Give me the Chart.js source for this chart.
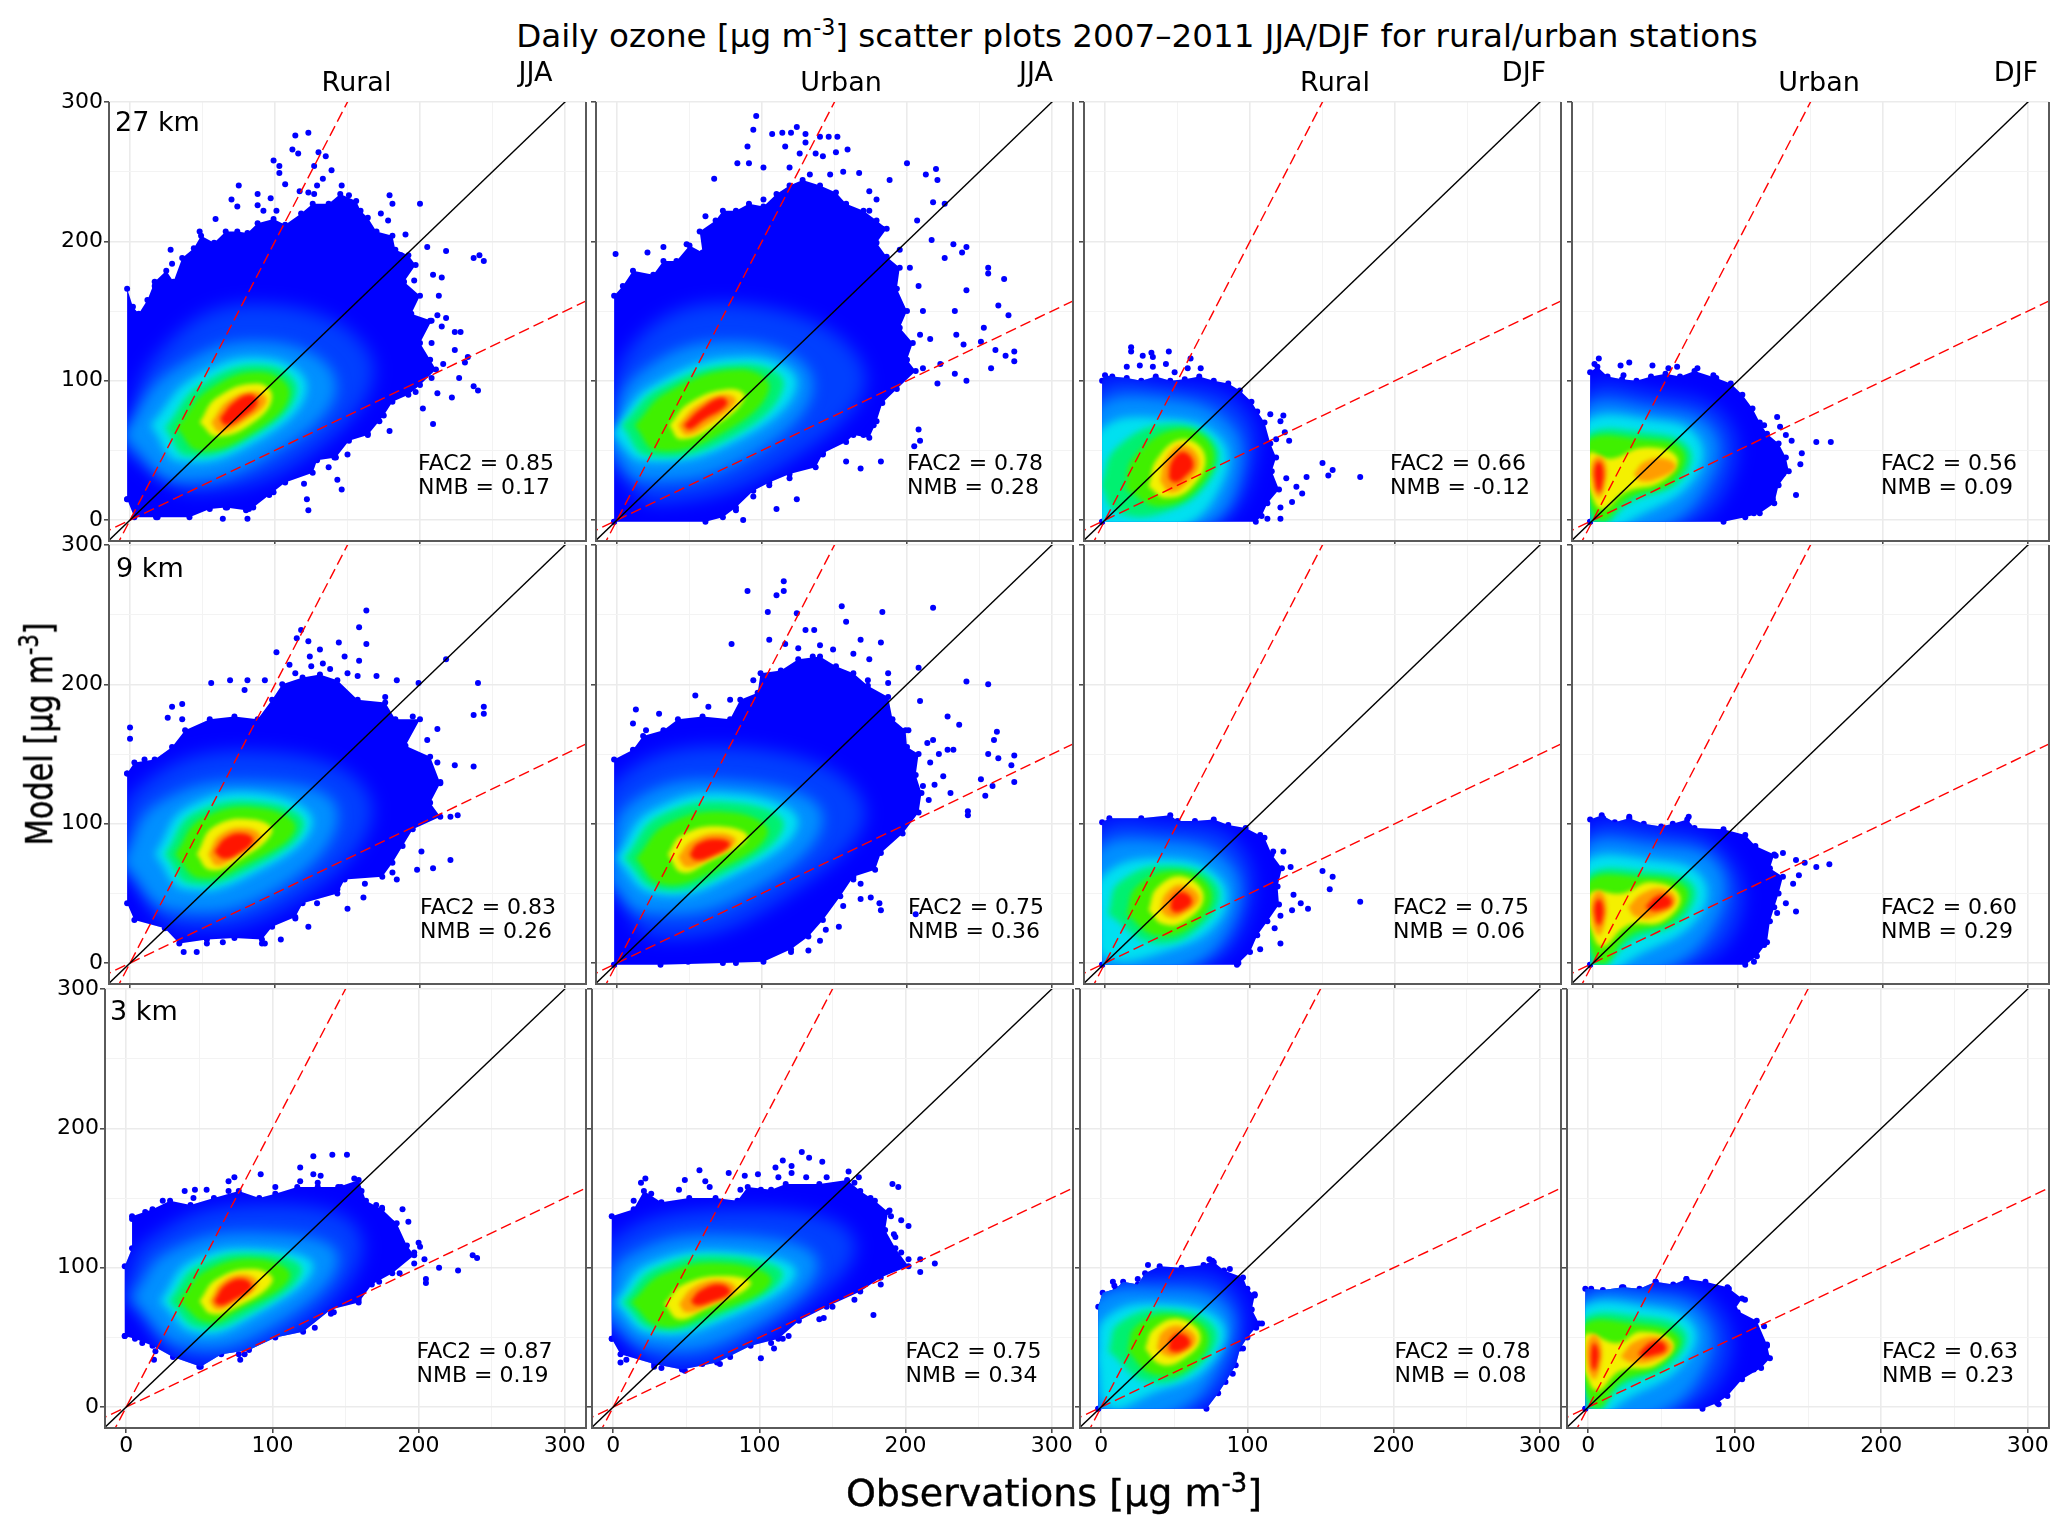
<!DOCTYPE html>
<html><head><meta charset="utf-8">
<style>
html,body{margin:0;padding:0;background:#fff;width:2067px;height:1537px;overflow:hidden;font-family:"DejaVu Sans",sans-serif;color:#000}
canvas{position:absolute}
.t{position:absolute;white-space:nowrap;line-height:1;z-index:5}
.c{transform:translate(-50%,-50%)}
sup{font-size:.68em;line-height:0;vertical-align:.55em}
</style>
<script src="https://cdn.jsdelivr.net/npm/chart.js@4/dist/chart.umd.min.js"></script>
</head><body>
<script>
// ---- labels and ticks ----
const rowNames=['27 km','9 km','3 km'];
const colSites=['Rural','Urban','Rural','Urban'];
const colSeasons=['JJA','JJA','DJF','DJF'];
const gridTicks=[0,50,100,150,200,250,300];
const fac2=[[0.85,0.78,0.66,0.56],[0.83,0.75,0.75,0.60],[0.87,0.75,0.78,0.63]];
const nmb=[[0.17,0.28,-0.12,0.09],[0.26,0.36,0.06,0.29],[0.19,0.34,0.08,0.23]];
// ---- reference lines ----
const oneToOne=[-20,-20,320,320];
const twoToOne=[-20,-40,160,320];
const oneToTwo=[-40,-20,320,160];
// ---- density classes, low to high ----
const densityColors=['','#0040ff','#0090ff','#00e0f0','#00f070','#40f000','#f4f000','#ff9c00','#ff1500'];
const densityBlur=[0,9,7,4,3,2.5,2,2,2];

// ---- 27 km ----
const outline27RJ=[-2,15,-2,166,2,153,6,148,12,158,17,171,25,179,30,171,36,188,44,195,49,204,58,199,66,207,74,207,81,206,88,213,99,216,107,212,118,220,126,227,137,227,145,234,156,229,159,222,164,217,170,207,181,204,183,194,192,190,197,183,189,171,200,161,194,148,208,143,200,127,207,115,211,108,200,97,192,90,181,85,175,75,164,61,151,57,142,45,129,43,126,34,107,27,96,18,85,9,80,7,66,9,55,8,41,2,19,2,3,2];
const dots27RJ=[114,276,123,278,112,266,116,263,130,264,135,261,99,258,103,254,103,249,127,254,139,251,107,241,133,245,75,240,88,234,70,230,97,231,117,236,179,233,200,227,178,215,190,205,205,196,218,193,237,188,241,190,244,186,209,176,215,174,213,161,218,145,224,135,228,135,224,122,233,117,231,113,227,102,237,96,240,93,222,88,212,91,209,69,202,80,179,64,150,47,143,29,146,22,122,15,123,7,64,1,81,1,28,194,146,240,151,233,123,235,129,240,127,234,88,226,92,222,74,225,59,216,48,207,101,222,173,220,181,227,187,190,196,172,207,143,212,147,215,139,208,127,216,112,204,106,208,102,197,92,172,71,164,62,141,45,137,38,120,26,99,20,82,8,67,9,18,2,17,168,29,184];
const bands27RJ=[[1,-6,50,20,120,85,155,165,120,140,60,50,20],[2,-6,60,30,108,95,128,142,100,110,55,35,28],[3,14,68,45,103,95,116,122,95,90,58,35,42],[4,24,66,50,98,95,111,115,92,85,60,40,46],[5,32,66,55,94,92,106,110,90,85,63,48,50],[6,48,70,60,88,88,98,98,88,85,70,60,60],[7,56,70,68,86,88,92,94,85,80,72,62,63],[8,62,73,72,85,84,90,88,84,78,74,66,68]];

const outline27UJ=[-2,-1.2,-2,161,4,168,11,179,25,176,32,186,41,186,50,197,59,192,57,207,68,215,73,222,82,222,91,227,101,225,110,234,119,240,128,244,140,240,151,235,158,227,170,222,179,215,186,209,179,199,186,189,195,181,193,166,200,150,195,138,204,127,200,115,206,107,193,94,183,84,179,71,174,59,163,61,158,56,142,48,137,38,119,33,105,27,94,21,82,9,73,2,61,-1.2];
const dots27UJ=[96,290,94,280,124,282,107,277,114,278,120,278,130,277,140,275,152,275,146,275,90,268,159,266,151,264,126,263,137,263,116,268,83,256,91,256,101,253,156,250,167,249,67,245,188,244,200,256,220,252,213,248,221,244,218,228,226,227,174,236,179,230,207,215,217,201,232,198,241,196,238,192,226,188,256,181,256,177,267,173,241,165,263,154,270,147,253,138,233,150,234,133,251,128,239,126,261,122,274,121,268,118,274,114,258,109,241,100,233,105,221,98,208,65,209,57,205,53,182,42,168,37,158,42,124,15,110,8,87,0,21,192,-1,191,32,196,147,231,174,222,183,209,195,194,202,181,208,168,211,150,209,133,216,130,223,112,211,109,177,68,170,61,142,47,119,30,105,25,94,17,82,7,61,218,48,198,101,230,119,253,133,248,147,248,142,261,130,271];
const bands27UJ=[[1,-6,40,10,125,85,155,170,110,130,50,30,12],[2,-6,52,15,105,85,128,135,100,95,48,20,28],[3,-4,62,25,97,90,117,124,98,85,58,20,42],[4,3,68,30,95,88,112,115,97,80,60,22,46],[5,12,68,35,92,85,108,105,94,72,62,28,50],[6,36,68,50,84,78,94,88,88,68,68,44,58],[7,42,68,55,82,74,90,82,85,62,68,48,61],[8,46,68,58,80,72,88,76,83,60,72,50,65]];

const outline27RD=[-2,-1.2,-2,100,0,104,5,103,15,102,25,100,35,103,45,100,55,101,65,103,75,100,85,98,93,93,101,85,105,78,110,70,114,55,118,45,115,35,120,22,112,12,108,3,104,-1.2];
const dots27RD=[18,124,18,121,32,120,44,121,26,118,33,117,15,110,24,111,33,110,42,112,59,116,66,109,57,109,48,106,114,76,123,75,121,71,124,63,127,57,118,58,125,30,139,31,132,24,136,19,150,41,157,36,154,32,176,31,121,9,121,1,112,1,129,13];
const bands27RD=[[1,-6,45,-6,95,40,98,95,80,100,30,70,-6,-6,-6],[2,-6,40,-6,80,35,88,85,70,92,30,65,-6,-6,-6],[3,-6,30,-3,65,40,73,80,58,80,25,50,-6,0,-6],[4,-3,25,8,52,45,69,76,55,72,28,42,6,8,6],[5,14,22,20,45,50,65,74,52,66,25,38,10],[6,30,24,36,44,54,58,69,46,60,24,42,16],[7,38,28,42,44,54,54,65,42,56,26,45,20],[8,44,30,46,42,54,49,61,40,54,30,48,27]];

const outline27UD=[-2,-1.2,-2,106,3,110,10,103,20,101,30,100,40,103,50,105,60,103,70,107,85,102,95,98,103,90,110,80,115,70,120,62,128,55,133,45,135,35,128,25,125,12,115,5,105,2,90,-1.2];
const dots27UD=[4,116,1,112,25,113,19,111,41,111,58,110,52,109,72,109,21,104,83,104,127,74,118,68,129,67,133,61,137,57,164,56,154,56,144,48,143,40,131,33,140,18,124,15,111,5];
const bands27UD=[[1,-6,40,-6,92,40,92,90,75,95,30,60,-6,-6,-6],[2,-6,40,-6,80,40,80,82,65,80,28,45,-6,-6,-6],[3,-6,35,-6,70,40,72,72,60,70,30,30,2,5,-6],[4,-6,30,-6,60,35,63,66,52,60,28,25,12,3,-6],[5,-6,25,-6,56,35,58,62,50,55,28,25,16,5,0],[6,-4,25,-3,48,12,44,35,52,58,45,48,28,22,20,6,8],[7,28,33,36,42,50,44,57,38,45,30,33,28],[7,0,22,-1,40,4,46,9,40,8,24,4,16],[8,2,24,1,36,4,42,7,36,6,24,4,20]];

// ---- 9 km ----
const outline9RJ=[-2,136,3,144,17,146,29,155,38,167,55,175,72,177,88,175,98,189,105,200,119,205,131,207,143,203,157,189,176,187,183,175,200,175,190,156,207,148,214,129,207,115,214,105,195,96,188,84,181,72,174,62,148,60,143,50,119,43,114,33,98,26,91,17,72,18,53,17,34,14,24,25,3,31,-2,43];
const dots9RJ=[163,253,158,241,118,239,115,233,123,231,101,223,131,225,144,230,163,229,158,217,170,206,218,218,184,203,199,201,240,201,244,184,237,178,244,179,56,201,69,203,81,203,36,186,26,176,0,169,0,161,212,168,237,141,224,142,214,130,226,106,201,80,221,74,209,68,198,67,184,60,161,47,150,39,123,26,104,17,93,14,46,8,37,8,64,15,133,215,148,220,157,206,124,220,114,208,176,191,193,172,195,177,205,160,212,144,205,124,221,105,181,65,162,57,143,53,129,43,114,32,91,14,72,20,53,14,29,184,36,175,10,146,93,203,79,196,125,213,138,211,150,208,110,214];
const bands9RJ=[[1,-6,70,5,125,85,152,165,120,130,55,35,25],[2,-6,72,20,115,90,130,143,110,105,55,30,38],[3,17,78,40,112,95,121,126,100,85,64,38,53],[4,24,78,45,108,95,115,120,98,82,67,42,57],[5,31,78,50,104,92,111,114,96,78,70,48,61],[6,46,78,58,98,85,103,98,94,72,72,55,67],[7,54,78,62,92,80,97,90,90,72,76,60,70],[8,58,80,66,90,78,93,85,88,74,78,64,75]];

const outline9UJ=[-2,-1.2,-2,146,11,153,18,163,32,167,42,175,59,177,78,175,85,189,97,194,99,208,113,210,125,218,140,220,151,213,163,208,173,199,187,191,190,175,199,167,200,155,208,150,206,135,210,122,208,108,197,93,182,79,178,67,163,62,154,48,142,31,132,19,120,10,101,1,73,0,30,-1.2];
const dots9UJ=[115,274,90,267,115,267,110,264,155,256,218,255,183,252,104,252,124,251,158,245,136,239,79,229,168,232,182,230,105,232,174,218,187,208,241,202,256,200,208,212,209,188,54,192,13,182,29,179,11,172,228,177,236,171,262,166,260,160,256,150,274,149,263,147,272,142,274,130,251,132,259,127,232,153,254,120,242,106,182,38,168,46,175,47,181,43,206,35,153,26,144,24,132,9,116,11,140,16,116,229,130,239,135,220,149,225,163,222,173,203,187,201,201,167,218,160,228,153,225,134,211,127,230,122,242,109,192,96,173,69,163,60,168,57,156,41,135,31,120,8,49,1,82,0,20,167,63,184,78,189,94,203,125,226,140,228,216,144,214,158,222,150,219,128,215,117];
const bands9UJ=[[1,-6,55,-6,125,80,155,170,115,120,50,30,18],[2,-6,60,10,115,85,130,142,105,90,50,20,36],[3,-1,75,25,110,85,121,125,100,75,60,25,50],[4,5,75,30,106,82,115,115,98,70,62,28,53],[5,13,75,35,100,80,108,104,93,65,65,30,57],[6,35,78,45,92,72,98,90,90,62,72,45,65],[7,42,76,52,88,72,93,82,87,62,74,48,69],[8,50,78,56,86,70,89,78,85,64,76,54,74]];

const outline9RD=[-2,-1.2,-2,101,3,104,25,104,45,106,50,102,62,102,75,103,85,99,97,97,110,90,115,78,122,68,119,55,120,42,112,30,105,20,100,8,91,-1.2];
const dots9RD=[107,92,123,80,116,80,128,69,150,66,157,62,155,53,176,44,130,49,140,39,135,43,129,38,121,34,117,25,121,14,107,10,92,0];
const bands9RD=[[1,-6,50,-6,95,40,100,92,85,97,30,60,-6,-6,-6],[2,-6,40,-6,80,35,88,85,72,88,30,50,-6,-6,-6],[3,-6,30,-2,62,40,75,80,60,78,30,40,8,0,4],[4,2,35,10,58,45,70,77,56,70,30,35,14],[5,15,35,22,55,50,66,73,52,62,28,35,20],[6,30,38,36,54,54,62,68,48,55,30,40,28],[7,38,38,42,50,54,56,65,46,52,34,44,33],[8,45,40,47,48,54,51,60,44,52,37,47,37]];

const outline9UD=[-2,-1.2,-2,103,6,106,15,101,25,104,35,100,47,98,55,100,65,103,70,97,90,96,105,92,112,84,125,78,122,68,131,62,128,50,125,40,122,30,120,15,113,5,105,-1.2];
const dots9UD=[7,104,25,105,66,105,131,79,126,77,140,74,146,72,154,69,163,71,142,63,138,57,133,43,140,37,127,36,118,13,111,1];
const bands9UD=[[1,-6,50,-6,95,40,97,90,80,100,30,60,-6,-6,-6],[2,-6,40,-6,83,40,85,85,72,85,30,45,-6,-6,-6],[3,-6,35,-6,72,40,74,75,62,72,32,30,5,5,-6],[4,-6,30,-5,62,35,66,69,56,60,30,25,15,3,-6],[5,-6,25,-4,58,30,62,64,54,56,32,25,20,6,0],[6,-3,28,-2,50,20,50,40,58,60,48,48,30,24,27,6,12],[7,24,40,34,50,50,53,57,44,44,34,30,33],[7,0,26,-1,44,4,52,9,44,8,28,4,20],[8,36,40,44,48,52,48,54,42,46,38,40,38],[8,2,30,1,40,4,46,7,40,6,30,4,27]];

// ---- 3 km ----
const outline3RJ=[-1,51,-1,101,4,114,4,137,18,142,30,148,44,145,60,150,77,155,91,150,102,153,117,158,131,158,145,158,159,163,164,148,175,142,185,132,192,116,197,109,182,96,168,88,159,75,140,70,121,54,102,50,84,41,65,38,51,29,32,36,18,44,6,49];
const dots3RJ=[128,180,141,181,151,181,119,172,128,167,133,166,92,167,74,165,70,162,40,155,47,156,55,156,156,164,175,143,189,142,193,133,200,118,201,115,197,103,204,106,237,109,240,107,214,100,227,98,205,92,205,89,19,34,50,29,78,34,81,38,129,57,142,68,4,135,119,162,131,161,147,158,154,158,161,155,171,145,175,137,182,132,187,120,185,111,197,111,187,96,173,90,159,77,140,67,77,38,20,40,11,46,25,148,13,140,32,145,46,150,70,155,102,158];
const bands3RJ=[[1,-3,80,15,120,85,145,160,125,125,60,45,32],[2,3,78,30,112,95,125,145,108,100,58,40,44],[3,23,76,45,105,95,113,128,100,85,64,48,53],[4,29,76,50,102,95,110,120,97,82,66,50,57],[5,36,76,55,98,92,106,112,93,75,68,55,61],[6,50,76,62,92,88,99,100,90,72,70,58,67],[7,57,76,66,90,82,95,90,88,72,74,62,70],[8,60,76,68,88,80,92,86,86,72,76,64,73]];

const outline3UJ=[-1,49,-1,137,14,142,21,155,33,147,52,150,70,150,85,148,92,158,108,156,118,160,141,160,160,163,169,155,179,148,188,140,186,127,193,114,202,101,183,93,169,83,146,72,127,62,113,49,94,44,71,32,47,27,28,31,5,38];
const dots3UJ=[129,183,134,179,143,176,116,177,122,173,111,172,59,170,79,168,90,166,99,167,22,164,19,161,49,163,63,162,161,169,168,165,191,160,195,158,189,141,197,134,202,130,192,124,220,103,210,106,210,97,178,66,144,64,116,49,101,35,110,42,73,31,49,26,5,32,28,29,165,161,176,150,181,142,190,137,193,122,197,111,202,106,183,88,165,77,150,72,141,63,120,51,108,46,80,36,61,31,33,28,9,34,14,148,26,153,45,156,66,158,87,156,101,156,122,168,113,165,132,165,146,165];
const bands3UJ=[[1,-6,60,-6,115,80,142,165,120,110,55,40,28],[2,-6,68,10,108,85,123,140,103,85,52,25,43],[3,1,75,25,103,85,111,125,96,75,62,25,53],[4,6,75,30,100,82,108,116,94,70,64,28,56],[5,12,75,35,96,80,103,108,90,65,66,32,58],[6,35,74,48,88,78,94,94,88,62,70,45,63],[7,45,74,55,86,74,91,84,84,64,72,50,68],[8,53,76,60,84,74,88,80,82,66,75,57,73]];

const outline3RD=[-2,-1.2,-2,72,1,82,10,85,15,90,25,88,30,96,40,101,55,100,70,102,76,105,84,98,97,93,100,85,105,80,103,70,108,60,100,50,95,42,92,30,85,18,80,10,72,-1.2];
const dots3RD=[32,102,74,106,77,104,88,99,8,90,9,87,25,92,105,81,110,60,106,57,97,42,90,24,78,12];
const bands3RD=[[1,-6,50,-6,82,35,95,90,85,92,30,60,-6,-6,-6],[2,-6,45,-6,76,35,85,86,72,80,28,45,-6,-6,-6],[3,-3,35,3,64,42,74,83,60,72,28,35,10,5,0],[4,5,40,12,60,45,70,78,56,65,28,32,18],[5,18,40,24,58,50,66,73,52,60,28,35,24],[6,30,42,36,56,54,63,68,50,54,33,40,31],[7,38,42,42,54,55,58,65,48,52,37,44,37],[8,46,42,48,50,55,53,61,46,54,40,48,40]];

const outline3UD=[-2,-1.2,-2,85,10,84,24,86,35,85,46,90,58,88,67,92,80,90,95,86,105,78,100,70,115,62,122,45,124,35,118,28,105,20,95,8,88,3,78,-1.2];
const dots3UD=[2,85,23,86,46,90,67,92,96,85,107,77,102,68,120,58,122,44,122,36,113,27,100,18,93,10,89,2];
const bands3UD=[[1,-6,45,-6,84,40,88,85,76,95,30,55,-6,-6,-6],[2,-6,40,-6,76,40,80,78,66,80,30,45,-6,-6,-6],[3,-6,35,-6,70,40,72,72,58,64,30,25,5,6,-6],[4,-6,30,-5,62,35,65,66,54,56,30,22,14,4,-6],[5,-6,25,-4,58,30,60,62,50,50,30,22,18,6,0],[6,-3,26,-2,52,20,46,36,54,58,46,46,30,22,26,6,12],[7,22,36,32,47,50,50,57,42,44,33,30,32],[7,0,26,-1,44,4,52,9,44,8,28,4,20],[8,34,38,42,46,50,47,53,41,44,37,38,36],[8,2,30,2,40,4,46,7,40,6,30,4,26]];

const panelData=[
 [[outline27RJ,dots27RJ,bands27RJ],[outline27UJ,dots27UJ,bands27UJ],[outline27RD,dots27RD,bands27RD],[outline27UD,dots27UD,bands27UD]],
 [[outline9RJ,dots9RJ,bands9RJ],[outline9UJ,dots9UJ,bands9UJ],[outline9RD,dots9RD,bands9RD],[outline9UD,dots9UD,bands9UD]],
 [[outline3RJ,dots3RJ,bands3RJ],[outline3UJ,dots3UJ,bands3UJ],[outline3RD,dots3RD,bands3RD],[outline3UD,dots3UD,bands3UD]]
];

// ---- layout ----
const colLeft=[[109,596,1084,1572],[109,596,1084,1572],[105,592,1080,1567]];
const colRight=[586,1073,1561,2049];
const rowTop=[102,545,989];
const rowBottom=[541,984,1428];
const AXW=60,AXH=48,PADT=20,PADR=4;

function pairs(a,close){const o=[];for(let i=0;i<a.length;i+=2)o.push({x:a[i],y:a[i+1]});if(close)o.push({x:a[0],y:a[1]});return o;}
function addText(html,x,y,size,center,extra){const d=document.createElement('div');d.className='t'+(center?' c':'');d.innerHTML=html;d.style.left=x+'px';d.style.top=y+'px';d.style.fontSize=size+'px';if(extra)Object.assign(d.style,extra);document.body.appendChild(d);return d;}

const framePlugin={id:'frame',
 afterDatasetDraw(chart,args,opts){
  const c=chart.ctx,i=args.index;
  if(i===opts.cloudBase){ // bands come next: keep them inside the cloud outline
    const pts=chart.getDatasetMeta(i).data;
    c.save();c.beginPath();
    pts.forEach((p,k)=>k?c.lineTo(p.x,p.y):c.moveTo(p.x,p.y));
    c.closePath();c.clip();
  }
  if(i<=opts.cloudBase&&i>opts.topBand){c.filter='blur('+chart.data.datasets[i-1].softness+'px)';}
  if(i===opts.topBand){c.restore();c.filter='none';}
 },
 afterDraw(chart){
  const a=chart.chartArea,c=chart.ctx;
  c.save();c.strokeStyle='#5a5a5a';c.lineWidth=2;c.beginPath();
  c.moveTo(a.left,a.top);c.lineTo(a.left,a.bottom);c.lineTo(a.right,a.bottom);c.lineTo(a.right,a.top);c.stroke();c.restore();
 }};

function axisCommon(){return{
 type:'linear',
 afterBuildTicks(s){s.ticks=gridTicks.map(v=>({value:v}));},
 grid:{color:t=>t.tick&&t.tick.value%100===0?'#ebebeb':'#f3f3f3',lineWidth:t=>t.tick&&t.tick.value%100===0?1.6:1,
  tickColor:t=>t.tick&&t.tick.value%100===0?'#444444':'rgba(0,0,0,0)',tickLength:5,tickWidth:1.5},
 border:{display:false}
};}

rowNames.forEach((rn,r)=>{colSites.forEach((site,c)=>{
 const L=colLeft[r][c],R=colRight[c],T=rowTop[r],B=rowBottom[r];
 const cv=document.createElement('canvas');
 const w=AXW+(R-L)+PADR,h=PADT+(B-T)+AXH;
 cv.width=w;cv.height=h;cv.style.left=(L-AXW)+'px';cv.style.top=(T-PADT)+'px';cv.style.width=w+'px';cv.style.height=h+'px';
 document.body.appendChild(cv);
 const [outline,dots,bands]=panelData[r][c];
 const lineDs=(arr,col,dash)=>({data:pairs(arr),showLine:true,borderColor:col,borderWidth:1.4,borderDash:dash,pointRadius:0,fill:false,tension:0});
 const bandDs=bands.slice().sort((a,b)=>b[0]-a[0]).map(b=>({data:pairs(b.slice(1),true),showLine:true,fill:'shape',tension:0.45,softness:densityBlur[b[0]],
   backgroundColor:densityColors[b[0]],borderColor:densityColors[b[0]],borderWidth:0,pointRadius:0}));
 const datasets=[lineDs(oneToOne,'#000000',[]),lineDs(twoToOne,'#ff0000',[11,5]),lineDs(oneToTwo,'#ff0000',[11,5])]
  .concat(bandDs)
  .concat([{data:pairs(outline,true),showLine:true,fill:'shape',tension:0,backgroundColor:'#0000ff',borderColor:'#0000ff',borderWidth:0,pointRadius:3,pointBackgroundColor:'#0000ff',pointBorderWidth:0},
           {data:pairs(dots),showLine:false,pointRadius:3,pointBackgroundColor:'#0000ff',pointBorderWidth:0}]);
 const xAxis=axisCommon(),yAxis=axisCommon();
 xAxis.min=-14.5;xAxis.max=314.5;yAxis.min=-15;yAxis.max=300;
 xAxis.afterFit=s=>{s.height=AXH;};yAxis.afterFit=s=>{s.width=AXW;};
 xAxis.ticks={autoSkip:false,maxRotation:0,padding:0,color:'#000',font:{family:'DejaVu Sans',size:22},callback:v=>(r===2&&v%100===0)?String(v):''};
 yAxis.ticks={autoSkip:false,padding:1,color:'#000',font:{family:'DejaVu Sans',size:22},callback:v=>(c===0&&v%100===0)?String(v):''};
 new Chart(cv,{type:'scatter',
  data:{datasets},
  options:{responsive:false,animation:false,devicePixelRatio:1,layout:{padding:{left:0,top:PADT,right:PADR,bottom:0}},
   events:[],plugins:{legend:{display:false},tooltip:{enabled:false},title:{display:false},frame:{cloudBase:datasets.length-2,topBand:3}},
   scales:{x:xAxis,y:yAxis}},
  plugins:[framePlugin]});
 // annotation text
 const annX=[[418,907,1390,1881],[420,908,1393,1881],[416.5,905.5,1394.5,1882]][r][c];
 const annY=[[452,476],[896,920],[1340,1364]][r];
 addText('FAC2 = '+fac2[r][c].toFixed(2),annX,annY[0],22);
 addText('NMB = '+nmb[r][c].toFixed(2),annX,annY[1],22);
});});

// ---- text ----
addText('Daily ozone [µg m<sup>-3</sup>] scatter plots 2007–2011 JJA/DJF for rural/urban stations',1137,36,32.6,true);
[356.5,841,1335,1819].forEach((x,i)=>addText(colSites[i],x,81,27,true));
[535.5,1036,1524,2016].forEach((x,i)=>addText(colSeasons[i],x,71,27,true));
[[115,121],[116,567],[110,1010]].forEach((p,i)=>addText(rowNames[i],p[0],p[1]-13,27));
addText('Model [µg m<sup>-3</sup>]',39,734,33,true,{transform:'translate(-50%,-50%) rotate(-90deg) scale(0.92,1.15)',webkitTextStroke:'0.4px #000'});
addText('Observations [µg m<sup>-3</sup>]',1054,1493,38,true,{webkitTextStroke:'0.4px #000'});
</script>
</body></html>
